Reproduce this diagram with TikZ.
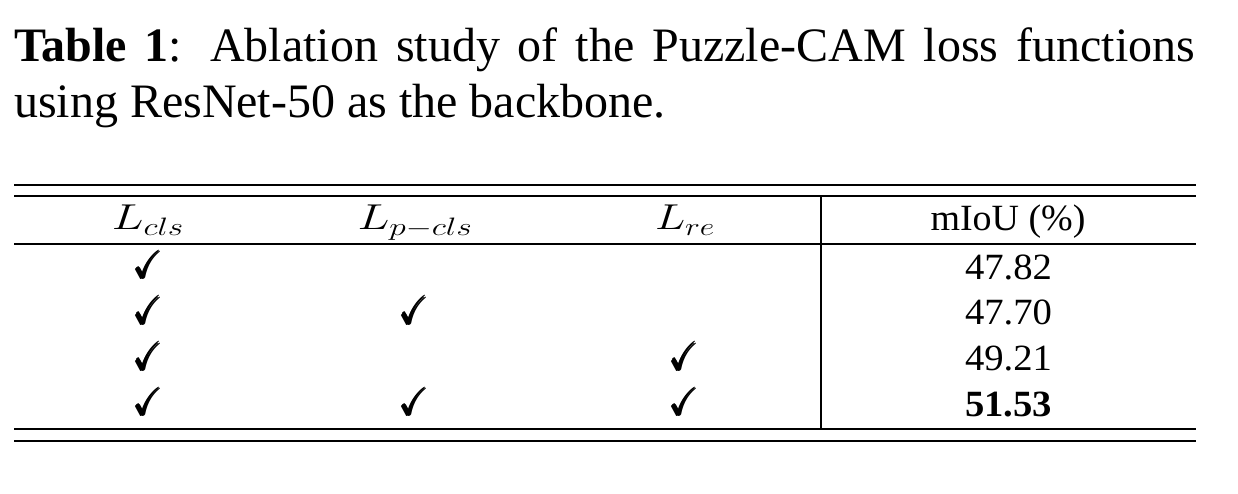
\RequirePackage{fix-cm}
\documentclass[tikz,border=0pt]{standalone}
\usepackage{graphicx}
\usepackage{amsmath}
\usepackage{amssymb}
\usepackage{fontspec}
\setmainfont{Liberation Serif}
\newcommand{\fitw}[2]{\resizebox{#1}{\height}{#2}}
\newcommand{\capfont}{\fontsize{48}{57}\selectfont}
\newcommand{\tabfont}{\fontsize{37}{42}\selectfont}
\newcommand{\mathfnt}{\fontsize{36}{40}\selectfont}
\newcommand{\chkfont}{\fontsize{39}{44}\selectfont}
\newcommand{\tick}{\fitw{29pt}{$\pmb{\checkmark}$}}
\begin{document}
\begin{tikzpicture}[x=1pt,y=-1pt,
  rule/.style={line width=2pt, line cap=butt},
  txt/.style={anchor=base, inner sep=0pt, outer sep=0pt},
  hdr/.style={txt, font=\mathfnt},
  num/.style={txt, font=\tabfont},
  chk/.style={txt, font=\chkfont}]
\useasboundingbox (0,0) rectangle (1238,494);
\fill[white] (0,0) rectangle (1238,494);
% caption
\node[txt, anchor=base west] (cap1) at (14,62)
  {\capfont\makebox[1181pt][s]{\textbf{Table 1}: Ablation study of the Puzzle-CAM loss functions}};
\node[txt, anchor=base west] (cap2) at (14,118)
  {\capfont using ResNet-50 as the backbone.};
% rules
\coordinate (L1) at (14,185);  \coordinate (R1) at (1196,185);
\coordinate (L2) at (14,196);  \coordinate (R2) at (1196,196);
\coordinate (L3) at (14,244);  \coordinate (R3) at (1196,244);
\coordinate (L4) at (14,429);  \coordinate (R4) at (1196,429);
\coordinate (L5) at (14,440.5);\coordinate (R5) at (1196,440.5);
\coordinate (VT) at (820.5,196); \coordinate (VB) at (820.5,429);
\draw[rule] (L1) -- (R1);
\draw[rule] (L2) -- (R2);
\draw[rule] (L3) -- (R3);
\draw[rule] (L4) -- (R4);
\draw[rule] (L5) -- (R5);
\draw[rule] (VT) -- (VB);
% header
\node[hdr] (h1) at (148,230) {\fitw{72pt}{$L_{cls}$}};
\node[hdr] (h2) at (415,230) {\fitw{115pt}{$L_{p-cls}$}};
\node[hdr] (h3) at (685,230) {\fitw{60pt}{$L_{re}$}};
\node[num] (h4) at (1008,231) {\fitw{155pt}{mIoU (\%)}};
% values
\node[num] (v1) at (1008.5,279) {\fitw{87pt}{47.82}};
\node[num] (v2) at (1008.5,324.5) {\fitw{87pt}{47.70}};
\node[num] (v3) at (1008.5,370.5) {\fitw{87pt}{49.21}};
\node[num] (v4) at (1008.5,416) {\fitw{87pt}{\textbf{51.53}}};
% checks
\node[chk] (c11) at (149,278.5) {\tick};
\node[chk] (c21) at (149,324) {\tick};
\node[chk] (c22) at (415,324) {\tick};
\node[chk] (c31) at (149,370) {\tick};
\node[chk] (c33) at (685,370) {\tick};
\node[chk] (c41) at (149,415.5) {\tick};
\node[chk] (c42) at (415,415.5) {\tick};
\node[chk] (c43) at (685,415.5) {\tick};
\end{tikzpicture}
\end{document}
